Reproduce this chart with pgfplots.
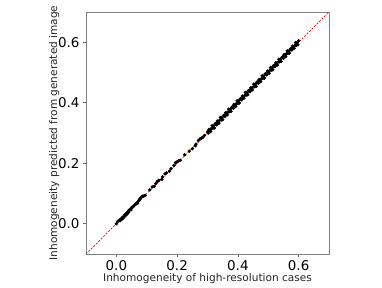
\documentclass[border=0pt]{standalone}
\usepackage{fontspec}
\setmainfont{DejaVu Sans}
\usepackage{pgfplots}
\pgfplotsset{compat=1.18}

\begin{document}
\begin{tikzpicture}[x=1bp,y=1bp]
	\begin{axis}[
		at={(0,0)}, anchor=south west,
		scale only axis,
		width=243bp, height=242bp,
		xmin=-0.1, xmax=0.7, ymin=-0.1, ymax=0.7,
		xtick={0,0.2,0.4,0.6}, ytick={0,0.2,0.4,0.6},
		axis line style={gray, line width=0.8pt},
		tick style={gray!80!black, line width=0.6pt},
		tick align=outside, tick pos=left,
		major tick length=3bp,
		ticklabel style={font=\fontsize{13.5}{15}\selectfont},
		/pgf/number format/fixed,
		/pgf/number format/fixed zerofill,
		/pgf/number format/precision=1,
		/pgf/number format/assume math mode=true,
		xlabel={Inhomogeneity of high-resolution cases},
		ylabel={Inhomogeneity predicted from generated image},
		label style={font=\fontsize{10.6}{12}\selectfont, text=black!85},
		xlabel style={yshift=4bp},
		ylabel style={yshift=-8bp},
		clip=false]
	\addplot[only marks, mark=*, mark size=1.5bp, draw=black, fill=black] coordinates {
(0.000,0.000) (0.005,0.008) (0.010,0.012) (0.012,0.010) (0.015,0.016)
(0.018,0.015) (0.020,0.022) (0.022,0.019) (0.025,0.023) (0.028,0.030)
(0.030,0.027) (0.033,0.035) (0.035,0.032) (0.038,0.040) (0.040,0.038)
(0.042,0.045) (0.045,0.047) (0.048,0.046) (0.050,0.053) (0.055,0.056)
(0.058,0.060) (0.062,0.063) (0.065,0.066) (0.068,0.070) (0.070,0.068)
(0.073,0.075) (0.076,0.080) (0.078,0.082) (0.080,0.085) (0.083,0.088)
(0.085,0.091) (0.088,0.090) (0.092,0.093) (0.095,0.094) (0.110,0.112)
(0.118,0.122) (0.125,0.124) (0.130,0.133) (0.135,0.140) (0.140,0.144)
(0.150,0.147) (0.152,0.155) (0.160,0.165) (0.165,0.168) (0.175,0.174)
(0.180,0.182) (0.190,0.193) (0.195,0.202) (0.200,0.205) (0.205,0.208)
(0.210,0.210) (0.225,0.228) (0.240,0.240) (0.250,0.248) (0.260,0.258)
(0.262,0.263) (0.270,0.275) (0.275,0.280) (0.280,0.283) (0.285,0.286)
(0.290,0.292)
(0.3000,0.3040) (0.3025,0.2995) (0.3050,0.3120) (0.3075,0.3075) (0.3100,0.3050)
(0.3125,0.3145) (0.3150,0.3240) (0.3175,0.3155) (0.3200,0.3230) (0.3225,0.3165)
(0.3250,0.3300) (0.3275,0.3315) (0.3300,0.3270) (0.3325,0.3395) (0.3350,0.3350)
(0.3375,0.3325) (0.3400,0.3420) (0.3425,0.3515) (0.3450,0.3430) (0.3475,0.3505)
(0.3500,0.3440) (0.3525,0.3575) (0.3550,0.3590) (0.3575,0.3545) (0.3600,0.3670)
(0.3625,0.3625) (0.3650,0.3600) (0.3675,0.3695) (0.3700,0.3790) (0.3725,0.3705)
(0.3750,0.3780) (0.3775,0.3715) (0.3800,0.3850) (0.3825,0.3865) (0.3850,0.3820)
(0.3875,0.3945) (0.3900,0.3900) (0.3925,0.3875) (0.3950,0.3970) (0.3975,0.4065)
(0.4000,0.3980) (0.4025,0.4055) (0.4050,0.3990) (0.4075,0.4125) (0.4100,0.4140)
(0.4125,0.4095) (0.4150,0.4220) (0.4175,0.4175) (0.4200,0.4150) (0.4225,0.4245)
(0.4250,0.4340) (0.4275,0.4255) (0.4300,0.4330) (0.4325,0.4265) (0.4350,0.4400)
(0.4375,0.4415) (0.4400,0.4370) (0.4425,0.4495) (0.4450,0.4450) (0.4475,0.4425)
(0.4500,0.4520) (0.4525,0.4615) (0.4550,0.4530) (0.4575,0.4605) (0.4600,0.4540)
(0.4625,0.4675) (0.4650,0.4690) (0.4675,0.4645) (0.4700,0.4770) (0.4725,0.4725)
(0.4750,0.4700) (0.4775,0.4795) (0.4800,0.4890) (0.4825,0.4805) (0.4850,0.4880)
(0.4875,0.4815) (0.4900,0.4950) (0.4925,0.4965) (0.4950,0.4920) (0.4975,0.5045)
(0.5000,0.5000) (0.5025,0.4975) (0.5050,0.5070) (0.5075,0.5165) (0.5100,0.5080)
(0.5125,0.5155) (0.5150,0.5090) (0.5175,0.5225) (0.5200,0.5240) (0.5225,0.5195)
(0.5250,0.5320) (0.5275,0.5275) (0.5300,0.5250) (0.5325,0.5345) (0.5350,0.5440)
(0.5375,0.5355) (0.5400,0.5430) (0.5425,0.5365) (0.5450,0.5500) (0.5475,0.5515)
(0.5500,0.5470) (0.5525,0.5595) (0.5550,0.5550) (0.5575,0.5525) (0.5600,0.5620)
(0.5625,0.5715) (0.5650,0.5630) (0.5675,0.5705) (0.5700,0.5640) (0.5725,0.5775)
(0.5750,0.5790) (0.5775,0.5745) (0.5800,0.5870) (0.5825,0.5825) (0.5850,0.5800)
(0.5875,0.5895) (0.5900,0.5990) (0.5925,0.5905) (0.5950,0.5980) (0.5975,0.5915)
(0.6000,0.6050)
	};
	% identity line
	\addplot[red, dashed, line width=0.7pt, dash pattern=on 2bp off 1.5bp] coordinates {(-0.1,-0.1) (0.7,0.7)};
	\end{axis}
	\path (-86,-32) rectangle (296,254);
\end{tikzpicture}
\end{document}
